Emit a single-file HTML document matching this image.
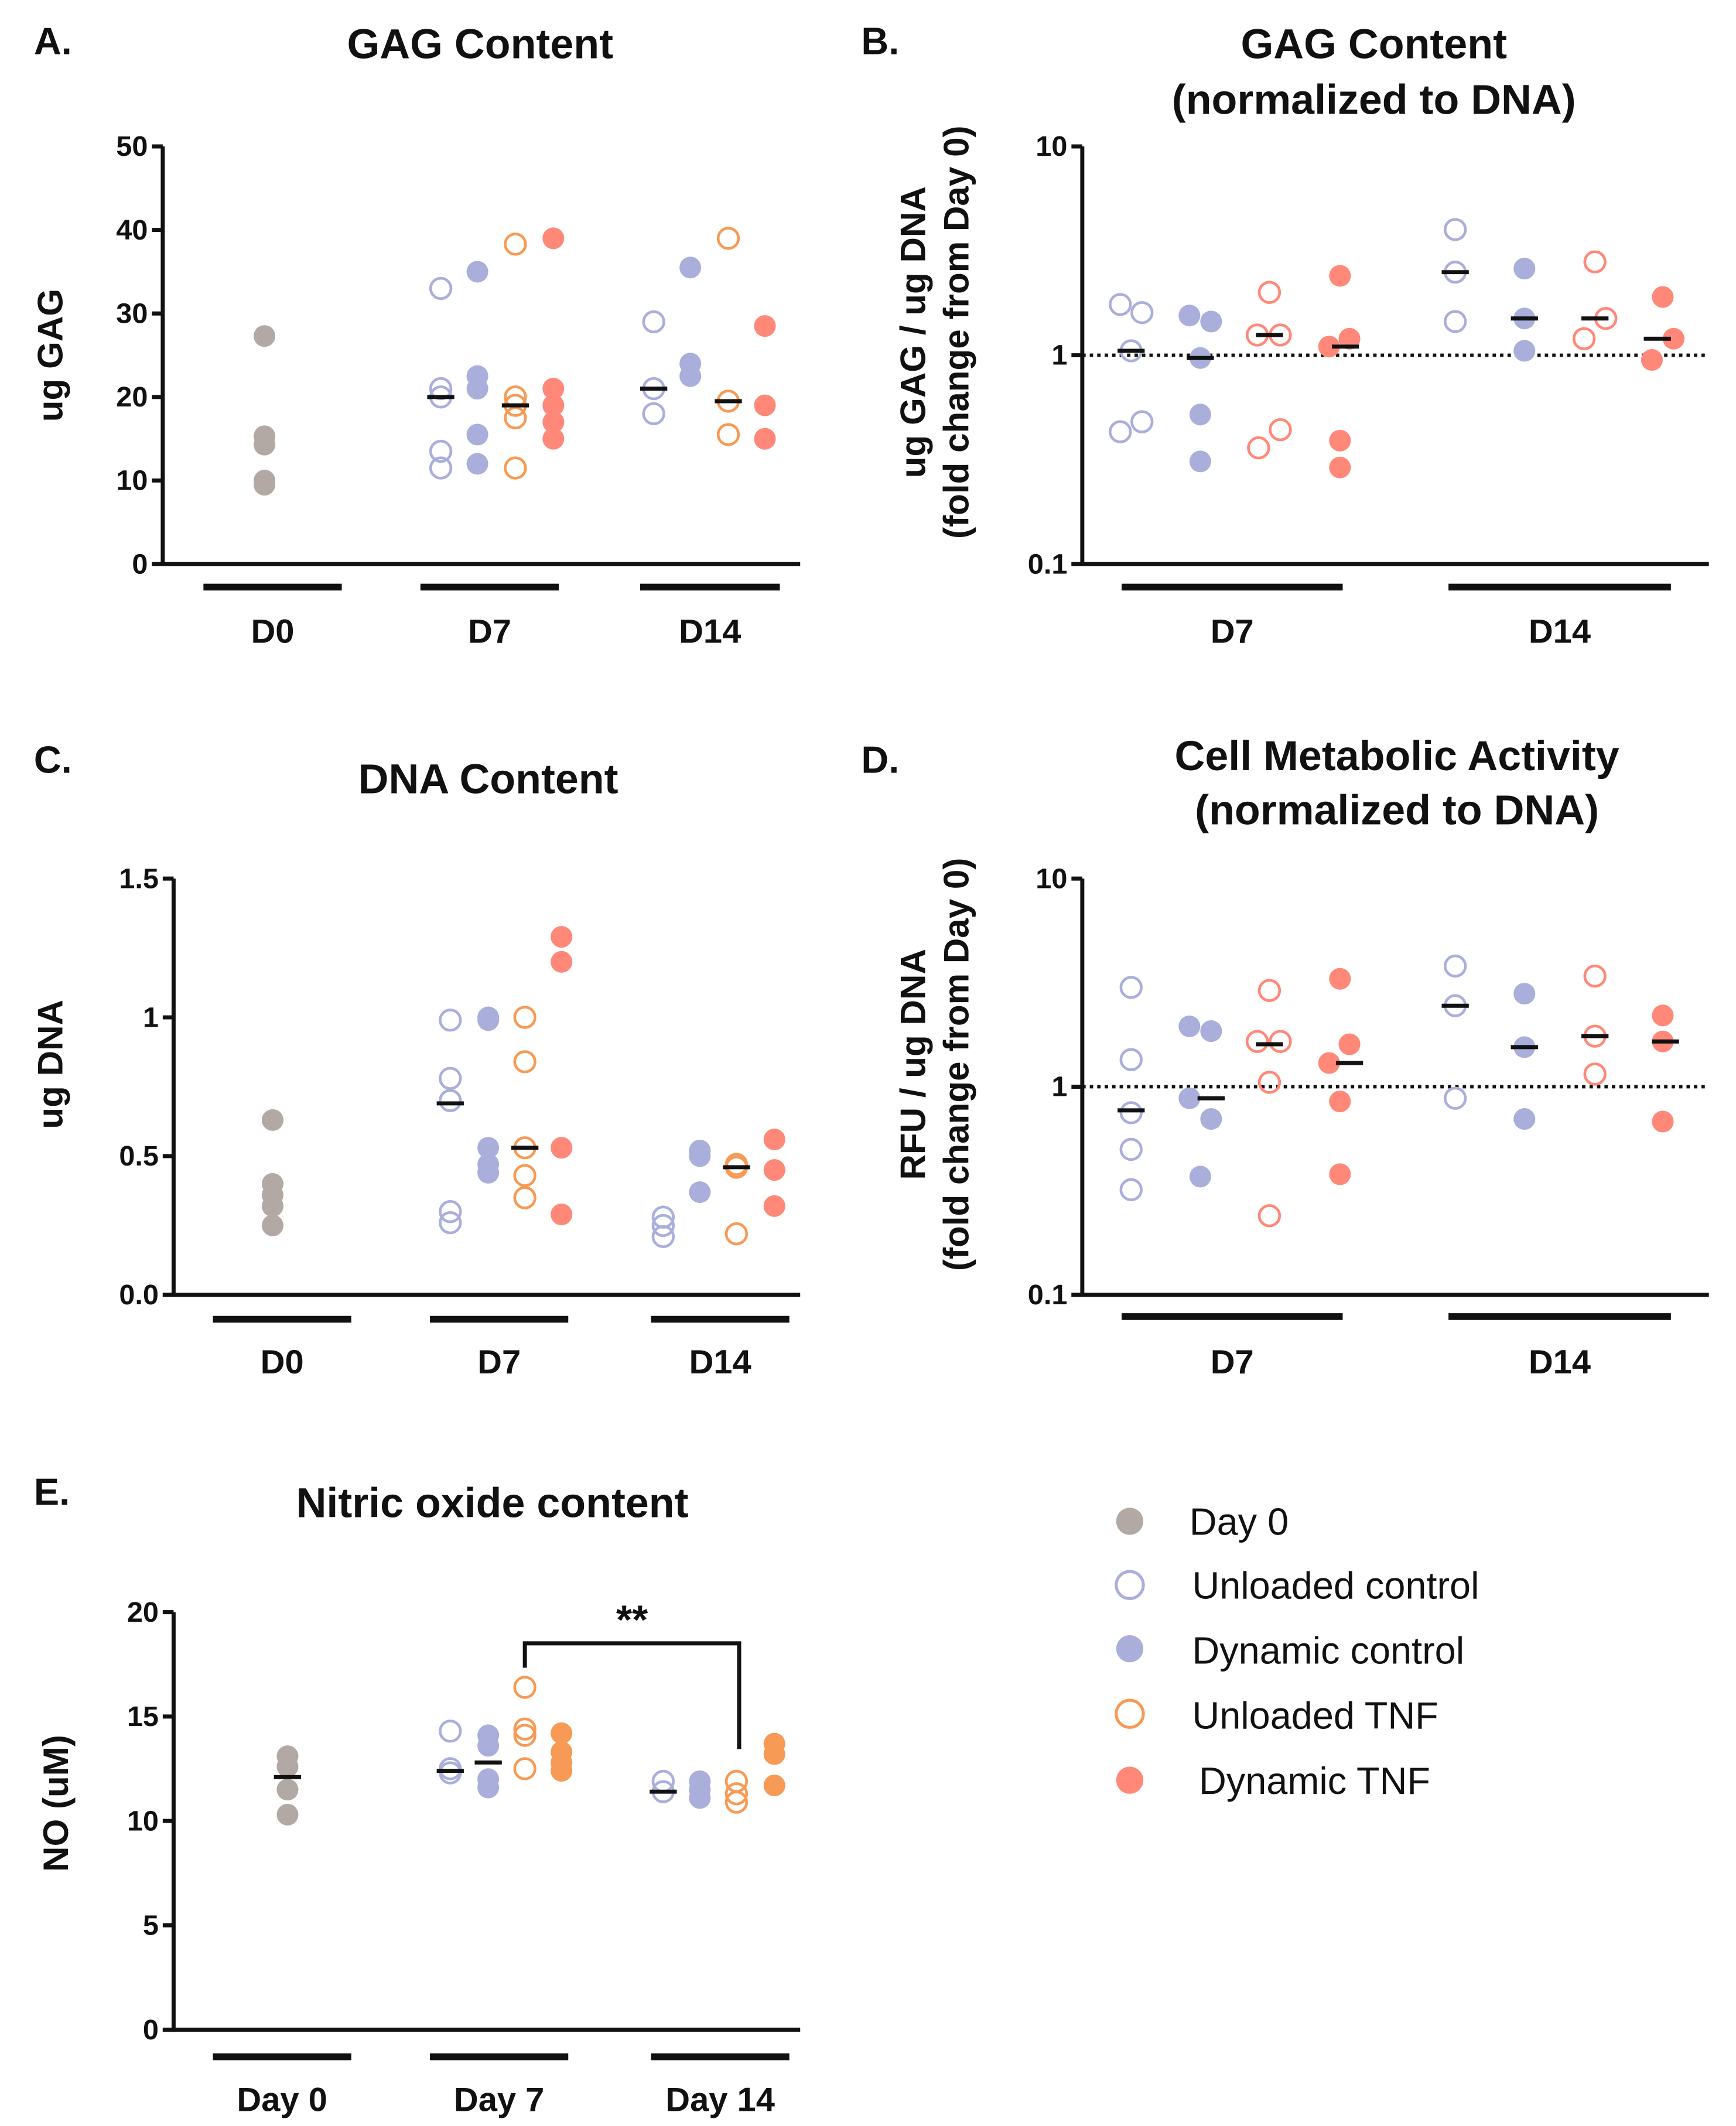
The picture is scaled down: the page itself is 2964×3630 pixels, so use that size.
<!DOCTYPE html>
<html><head><meta charset="utf-8"><style>
html,body{margin:0;padding:0;background:#fff}
svg{display:block}
text{font-family:"Liberation Sans",sans-serif}
.nar{font-family:"Liberation Sans Narrow","Liberation Sans",sans-serif}
</style></head><body>
<svg id="fig" xmlns="http://www.w3.org/2000/svg" width="2964" height="3630" viewBox="0 0 1280 1568" preserveAspectRatio="none">
<g id="static" font-weight="bold" fill="#111">
<text x="25" y="40" font-size="28">A.</text>
<text x="635" y="40" font-size="28">B.</text>
<text x="25" y="570" font-size="28">C.</text>
<text x="635" y="570" font-size="28">D.</text>
<text x="25" y="1110" font-size="28">E.</text>
<g font-size="31" text-anchor="middle">
<text x="354" y="43">GAG Content</text>
<text x="1013" y="43">GAG Content</text>
<text x="1013" y="84">(normalized to DNA)</text>
<text x="360" y="585">DNA Content</text>
<text x="1030" y="568">Cell Metabolic Activity</text>
<text x="1030" y="608">(normalized to DNA)</text>
<text x="363" y="1119">Nitric oxide content</text>
</g>
<g font-size="26" text-anchor="middle">
<text transform="translate(46,262) rotate(-90)">ug GAG</text>
<text transform="translate(682,245) rotate(-90)">ug GAG / ug DNA</text>
<text transform="translate(714,245) rotate(-90)">(fold change from Day 0)</text>
<text transform="translate(46,785) rotate(-90)">ug DNA</text>
<text transform="translate(682,785) rotate(-90)">RFU / ug DNA</text>
<text transform="translate(714,785) rotate(-90)">(fold change from Day 0)</text>
<text transform="translate(50,1330) rotate(-90)">NO (uM)</text>
</g>
</g>
<g id="legend" font-size="28" fill="#111">
<circle cx="833" cy="1122" r="10" fill="#b3a9a4"/>
<text x="877" y="1132">Day 0</text>
<circle cx="833" cy="1169" r="10" fill="none" stroke="#a9aedb" stroke-width="2.2"/>
<text x="879" y="1179">Unloaded control</text>
<circle cx="833" cy="1216" r="10" fill="#a9aedb"/>
<text x="879" y="1227">Dynamic control</text>
<circle cx="833" cy="1264" r="10" fill="none" stroke="#f79a55" stroke-width="2.2"/>
<text x="879" y="1275">Unloaded TNF</text>
<circle cx="833" cy="1313" r="10" fill="#ff8878"/>
<text x="884" y="1323">Dynamic TNF</text>
</g>
<g id="plots"></g>
</svg>
<script>
// ---- Panel A data (ug GAG) ----
const aD0 = [27.3, 15.3, 14.3, 10, 9.5];
const aD7UC = [33, 21, 20, 13.5, 11.5];
const aD7DC = [35, 22.5, 21, 15.5, 12];
const aD7UT = [38.3, 20, 19, 17.5, 11.5];
const aD7DT = [39, 21, 19, 17, 15];
const aD14UC = [29, 21, 18];
const aD14DC = [35.5, 24, 22.5];
const aD14UT = [39, 19.5, 15.5];
const aD14DT = [28.5, 19, 15];
const aTicks = [0, 10, 20, 30, 40, 50];
// ---- Panel B data (fold change) ----
const bD7UC = [1.75, 1.6, 1.05, 0.48, 0.43];
const bD7DC = [1.55, 1.45, 0.97, 0.52, 0.31];
const bD7UT = [2.0, 1.25, 1.25, 0.44, 0.36];
const bD7DT = [2.4, 1.2, 1.1, 0.39, 0.29];
const bD14UC = [4.0, 2.5, 1.45];
const bD14DC = [2.6, 1.5, 1.05];
const bD14UT = [2.8, 1.5, 1.2];
const bD14DT = [1.9, 1.2, 0.95];
const bMed = [1.05, 0.97, 1.25, 1.1, 2.5, 1.5, 1.5, 1.2];
// ---- Panel C data (ug DNA) ----
const cD0 = [0.63, 0.4, 0.36, 0.32, 0.25];
const cD7UC = [0.99, 0.78, 0.7, 0.3, 0.26];
const cD7DC = [1.0, 0.99, 0.53, 0.47, 0.44];
const cD7UT = [1.0, 0.84, 0.53, 0.43, 0.35];
const cD7DT = [1.29, 1.2, 0.53, 0.29];
const cD14UC = [0.28, 0.25, 0.21];
const cD14DC = [0.52, 0.5, 0.37];
const cD14UT = [0.47, 0.46, 0.22];
const cD14DT = [0.56, 0.45, 0.32];
const cTicks = [0, 0.5, 1, 1.5];
const cTickLabels = ["0.0", "0.5", "1", "1.5"];
// ---- Panel D data (fold change) ----
const dD7UC = [3.0, 1.35, 0.75, 0.5, 0.32];
const dD7DC = [1.95, 1.85, 0.88, 0.7, 0.37];
const dD7UT = [2.9, 1.65, 1.65, 1.05, 0.24];
const dD7DT = [3.3, 1.6, 1.3, 0.85, 0.38];
const dD14UC = [3.8, 2.45, 0.88];
const dD14DC = [2.8, 1.55, 0.7];
const dD14UT = [3.4, 1.75, 1.15];
const dD14DT = [2.2, 1.65, 0.68];
const dMed = [0.77, 0.88, 1.6, 1.3, 2.45, 1.55, 1.75, 1.65];
// ---- Panel E data (NO uM) ----
const eD0 = [13.1, 12.6, 11.5, 10.3];
const eD7UC = [14.3, 12.5, 12.3];
const eD7DC = [14.1, 13.6, 12, 11.6];
const eD7UT = [16.4, 14.4, 14.1, 12.5];
const eD7DT = [14.2, 13.3, 12.8, 12.4];
const eD14UC = [11.9, 11.4];
const eD14DC = [11.9, 11.5, 11.1];
const eD14UT = [11.9, 11.3, 10.9];
const eD14DT = [13.7, 13.2, 11.7];
const eTicks = [0, 5, 10, 15, 20];
const logTicks = [0.1, 1, 10];
const logTickLabels = ["0.1", "1", "10"];

const NS = "http://www.w3.org/2000/svg";
const root = document.getElementById('plots');
const COL = {grey:"#b3a9a4", lav:"#a9aedb", org:"#f79a55", sal:"#ff8878"};
function el(tag, attrs, parent){const e=document.createElementNS(NS,tag);for(const k in attrs)e.setAttribute(k,attrs[k]);(parent||root).appendChild(e);return e;}
function linY(v0,v1,p0,p1){return v=>p0+(v-v0)/(v1-v0)*(p1-p0);}
function logY(p0,p1){return v=>p0+(Math.log10(v)+1)/2*(p1-p0);}
function axis(x,yTop,yBot,xEnd,ticks,labels,ys,name){
  const g=el('g',{});
  
  
  el('line',{x1:x,y1:yTop,x2:x,y2:yBot,stroke:'#111','stroke-width':3},g);
  el('line',{x1:x-8,y1:yBot,x2:xEnd,y2:yBot,stroke:'#111','stroke-width':3},g);
  ticks.forEach((t,i)=>{const y=ys(t);
    el('line',{x1:x-8,y1:y,x2:x,y2:y,stroke:'#111','stroke-width':3},g);
    const tx=el('text',{x:x-11,y:y+7,'font-size':21,'font-weight':'bold','text-anchor':'end',fill:'#111','class':'nar'},g);
    tx.textContent=labels[i];
    
    
  });
}
function groupBar(x1,x2,y,ly,label,name){
  const l=el('line',{x1:x1,y1:y,x2:x2,y2:y,stroke:'#111','stroke-width':5});
  
  
  const t=el('text',{x:(x1+x2)/2,y:ly,'font-size':25,'font-weight':'bold','text-anchor':'middle',fill:'#111','class':'nar'});
  t.textContent=label;
  
  
}
function dots(vals,xs,ys,col,open,name){
  vals.forEach((v,i)=>{
    const x=Array.isArray(xs)?xs[i%xs.length]:xs;
    const c=el('circle',{cx:x,cy:ys(v),r:open?7.5:8,fill:open?'none':col,stroke:open?col:'none','stroke-width':open?2:0});
    
    
  });
}
function median(x,v,ys,name){
  const l=el('line',{x1:x-10,y1:ys(v),x2:x+10,y2:ys(v),stroke:'#111','stroke-width':3});
  
  
}

// Panel A
const yA=linY(0,50,416,108);
axis(120,108,416,590,aTicks,aTicks.map(String),yA,'panel-a');
groupBar(150,252,433,474,'D0','panel-a-d0');groupBar(310,412,433,474,'D7','panel-a-d7');groupBar(472,575,433,474,'D14','panel-a-d14');
dots(aD0,195,yA,COL.grey,false,'a-day0');
dots(aD7UC,325,yA,COL.lav,true,'a-d7-unloaded-control');median(325,20,yA,'a-d7-uc');
dots(aD7DC,352,yA,COL.lav,false,'a-d7-dynamic-control');
dots(aD7UT,380,yA,COL.org,true,'a-d7-unloaded-tnf');median(380,19,yA,'a-d7-ut');
dots(aD7DT,408,yA,COL.sal,false,'a-d7-dynamic-tnf');
dots(aD14UC,482,yA,COL.lav,true,'a-d14-unloaded-control');median(482,21,yA,'a-d14-uc');
dots(aD14DC,509,yA,COL.lav,false,'a-d14-dynamic-control');
dots(aD14UT,537,yA,COL.org,true,'a-d14-unloaded-tnf');median(537,19.5,yA,'a-d14-ut');
dots(aD14DT,564,yA,COL.sal,false,'a-d14-dynamic-tnf');

// Panel B
const yB=logY(416,108);
axis(798,108,416,1260,logTicks,logTickLabels,yB,'panel-b');
(function(){const l=el('line',{x1:798,y1:yB(1),x2:1260,y2:yB(1),stroke:'#111','stroke-width':2.5,'stroke-dasharray':'2.5 3'});
})();
groupBar(827,990,433,474,'D7','panel-b-d7');groupBar(1068,1232,433,474,'D14','panel-b-d14');
dots(bD7UC,[826,842,834,842,826],yB,COL.lav,true,'b-d7-unloaded-control');
dots(bD7DC,[877,893,885,885,885],yB,COL.lav,false,'b-d7-dynamic-control');
dots(bD7UT,[936,927,944,944,928],yB,COL.sal,true,'b-d7-unloaded-tnf');
dots(bD7DT,[988,995,980,988,988],yB,COL.sal,false,'b-d7-dynamic-tnf');
dots(bD14UC,1073,yB,COL.lav,true,'b-d14-unloaded-control');
dots(bD14DC,1124,yB,COL.lav,false,'b-d14-dynamic-control');
dots(bD14UT,[1176,1184,1168],yB,COL.sal,true,'b-d14-unloaded-tnf');
dots(bD14DT,[1226,1234,1218],yB,COL.sal,false,'b-d14-dynamic-tnf');
[834,885,936,992,1073,1124,1176,1222].forEach((x,i)=>median(x,bMed[i],yB,'b-group-'+i));

// Panel C
const yC=linY(0,1.5,955,648);
axis(128,648,955,590,cTicks,cTickLabels,yC,'panel-c');
groupBar(157,259,973,1013,'D0','panel-c-d0');groupBar(317,419,973,1013,'D7','panel-c-d7');groupBar(480,582,973,1013,'D14','panel-c-d14');
dots(cD0,201,yC,COL.grey,false,'c-day0');
dots(cD7UC,332,yC,COL.lav,true,'c-d7-unloaded-control');median(332,0.69,yC,'c-d7-uc');
dots(cD7DC,360,yC,COL.lav,false,'c-d7-dynamic-control');
dots(cD7UT,387,yC,COL.org,true,'c-d7-unloaded-tnf');median(387,0.53,yC,'c-d7-ut');
dots(cD7DT,414,yC,COL.sal,false,'c-d7-dynamic-tnf');
dots(cD14UC,489,yC,COL.lav,true,'c-d14-unloaded-control');
dots(cD14DC,516,yC,COL.lav,false,'c-d14-dynamic-control');
dots(cD14UT,543,yC,COL.org,true,'c-d14-unloaded-tnf');median(543,0.46,yC,'c-d14-ut');
dots(cD14DT,571,yC,COL.sal,false,'c-d14-dynamic-tnf');

// Panel D
const yD=logY(955,648);
axis(798,648,955,1260,logTicks,logTickLabels,yD,'panel-d');
(function(){const l=el('line',{x1:798,y1:yD(1),x2:1260,y2:yD(1),stroke:'#111','stroke-width':2.5,'stroke-dasharray':'2.5 3'});
})();
groupBar(827,990,971,1013,'D7','panel-d-d7');groupBar(1068,1232,971,1013,'D14','panel-d-d14');
dots(dD7UC,834,yD,COL.lav,true,'d-d7-unloaded-control');
dots(dD7DC,[877,893,877,893,885],yD,COL.lav,false,'d-d7-dynamic-control');
dots(dD7UT,[936,927,944,936,936],yD,COL.sal,true,'d-d7-unloaded-tnf');
dots(dD7DT,[988,995,980,988,988],yD,COL.sal,false,'d-d7-dynamic-tnf');
dots(dD14UC,1073,yD,COL.lav,true,'d-d14-unloaded-control');
dots(dD14DC,1124,yD,COL.lav,false,'d-d14-dynamic-control');
dots(dD14UT,1176,yD,COL.sal,true,'d-d14-unloaded-tnf');
dots(dD14DT,1226,yD,COL.sal,false,'d-d14-dynamic-tnf');
[834,893,936,995,1073,1124,1176,1228].forEach((x,i)=>median(x,dMed[i],yD,'d-group-'+i));

// Panel E
const yE=linY(0,20,1497,1189);
axis(128,1189,1497,590,eTicks,eTicks.map(String),yE,'panel-e');
groupBar(157,259,1517,1557,'Day 0','panel-e-d0');groupBar(317,419,1517,1557,'Day 7','panel-e-d7');groupBar(480,582,1517,1557,'Day 14','panel-e-d14');
dots(eD0,212,yE,COL.grey,false,'e-day0');median(212,12.1,yE,'e-d0');
dots(eD7UC,332,yE,COL.lav,true,'e-d7-unloaded-control');median(332,12.4,yE,'e-d7-uc');
dots(eD7DC,360,yE,COL.lav,false,'e-d7-dynamic-control');median(360,12.8,yE,'e-d7-dc');
dots(eD7UT,387,yE,COL.org,true,'e-d7-unloaded-tnf');
dots(eD7DT,414,yE,COL.org,false,'e-d7-dynamic-tnf');
dots(eD14UC,489,yE,COL.lav,true,'e-d14-unloaded-control');median(489,11.4,yE,'e-d14-uc');
dots(eD14DC,516,yE,COL.lav,false,'e-d14-dynamic-control');
dots(eD14UT,543,yE,COL.org,true,'e-d14-unloaded-tnf');
dots(eD14DT,571,yE,COL.org,false,'e-d14-dynamic-tnf');
(function(){
  const p=el('polyline',{points:'387,1230 387,1212 545,1212 545,1290',fill:'none',stroke:'#111','stroke-width':3});
  
  const t=el('text',{x:466,y:1205,'font-size':30,'font-weight':'bold','text-anchor':'middle',fill:'#111'});
  t.textContent='**';
  
})();
</script>
</body></html>
